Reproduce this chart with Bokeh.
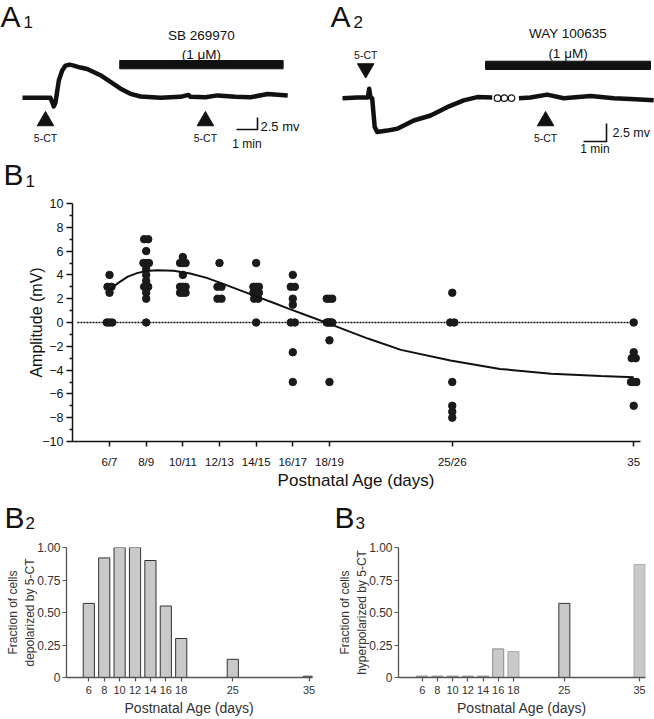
from bokeh.plotting import figure
from bokeh.models import Range1d, FixedTicker
from bokeh.layouts import column, row
from bokeh.embed import file_html
from bokeh.resources import INLINE
from bokeh.core.properties import value

FONT = "Liberation Sans"
INK = "#111111"
NAN = float("nan")

# ---------------- data ----------------
# A1 recording (time in min, membrane potential change in mV)
a1_time = [0, 0.86, 1.33, 1.49, 1.57, 1.73, 1.89, 2.05, 2.24, 2.44, 2.76, 3.08, 3.71, 4.19,
           4.67, 5.14, 5.62, 6.57, 7.52, 7.9, 8.0, 8.71, 9.29, 10.14, 10.86, 11.67, 12.63]
a1_mv = [0, 0, 0, -1.8, -1.0, 3.6, 5.7, 6.7, 6.9, 6.7, 6.3, 6.0, 4.7, 3.3,
         1.9, 0.83, 0.27, 0, 0.2, 0.6, 0.2, 0.1, 0.5, 0.2, 0.1, 0.8, 0.5]
a1_5ct_times = [1.095, 8.71]
a1_drug_window = [4.63, 12.41]
a1_drug_name = ["SB 269970", "(1 μM)"]

# A2 recording
a2_time = [0, 0.65, 1.1, 1.16, 1.22, 1.29, 1.40, 1.51, 1.94, 2.38, 3.1, 3.83, 4.55, 5.27,
           5.86, 6.51, NAN, 7.67, 8.17, 8.9, 9.62, 10.78, 11.8, 12.52, 13.53]
a2_mv = [0, 0.1, 0.1, 1.3, 0.1, 0, -4.0, -4.7, -4.5, -4.25, -3.1, -2.4, -1.25, -0.3,
         0.15, 0.1, NAN, 0, 0.1, 0.5, 0, 0.3, 0, -0.1, -0.3]
a2_break_marks = [6.74, 7.04, 7.35]
a2_5ct_times = [1.01, 8.83]
a2_drug_window = [6.22, 13.39]
a2_drug_name = ["WAY 100635", "(1 μM)"]

# B1 amplitudes per age group
age_pos = [6, 8, 10, 12, 14, 16, 18, 24.7, 34.6]
b1_tick_labels = ["6/7", "8/9", "10/11", "12/13", "14/15", "16/17", "18/19", "25/26", "35"]
amp_6_7 = [4, 3, 3, 2.5, 0, 0, 0]
amp_8_9 = [7, 7, 6, 5, 5, 5, 4.5, 4, 3.5, 3, 3, 2.5, 2, 0]
amp_10_11 = [5.5, 5, 5, 5, 4, 3, 3, 3, 2.5, 2.5, 2.5]
amp_12_13 = [5, 3, 3, 2, 2]
amp_14_15 = [5, 3, 3, 3, 2.5, 2.5, 2.5, 2, 2, 0]
amp_16_17 = [4, 3, 3, 2, 1.5, 0, 0, -2.5, -5]
amp_18_19 = [2, 2, 2, 0, 0, 0, 0, 0, -1.5, -5]
amp_25_26 = [2.5, 0, 0, -5, -7, -7.5, -8]
amp_35 = [0, -2.5, -3, -3, -5, -5, -5, -7]
amp_groups = [amp_6_7, amp_8_9, amp_10_11, amp_12_13, amp_14_15,
              amp_16_17, amp_18_19, amp_25_26, amp_35]

fit_age = [6.0, 6.5, 7.0, 7.5, 8.0, 8.6, 9.5, 10.4, 11.3, 12.2, 13.1, 14.0, 14.9, 15.8,
           16.7, 17.9, 19.1, 20.1, 21.9, 24.6, 27.3, 30.1, 32.8, 34.6]
fit_amp = [2.75, 3.35, 3.85, 4.15, 4.32, 4.4, 4.35, 4.12, 3.75, 3.25, 2.72, 2.2, 1.68, 1.15,
           0.63, -0.05, -0.77, -1.35, -2.3, -3.2, -3.9, -4.3, -4.5, -4.6]

# B2 / B3 fractions
bar_labels = ["6", "8", "10", "12", "14", "16", "18", "25", "35"]
frac_depolarized = [0.57, 0.92, 1.00, 1.00, 0.90, 0.55, 0.30, 0.14, 0.01]
frac_hyperpolarized = [0.01, 0.01, 0.01, 0.01, 0.01, 0.22, 0.20, 0.57, 0.87]
b2_outline = ["#333333"] * 9
b3_outline = ["#777777"] * 5 + ["#888888", "#aaaaaa", "#333333", "#aaaaaa"]


# ---------------- helpers ----------------
def txt(p, x, y, s, size, align="center", baseline="middle", color=INK):
    p.text(x=[x], y=[y], text=[s], text_font=value(FONT), text_font_size=size,
           text_align=align, text_baseline=baseline, text_color=color)


def blank_fig(width, height, xr, yr):
    p = figure(width=width, height=height, x_range=Range1d(*xr), y_range=Range1d(*yr),
               output_backend="svg", toolbar_location=None, x_axis_type=None,
               y_axis_type=None, min_border=0)
    p.outline_line_color = None
    return p


ROW_A_H = 195

# ---------------- A1 (21 px/min, 4.8 px/mV) ----------------
def a1_x(px):
    return (px - 22) / 21.0


def a1_y(py):
    return (97.3 - py) / 4.8


pa1 = blank_fig(330, ROW_A_H, (a1_x(0), a1_x(330)), (a1_y(ROW_A_H), a1_y(0)))
pa1.line(a1_time, a1_mv, line_width=4.5, color=INK, line_join="round")
pa1.quad(left=[a1_drug_window[0]], right=[a1_drug_window[1]], top=[a1_y(60)],
         bottom=[a1_y(68.3)], color=INK)
mid1 = sum(a1_drug_window) / 2
txt(pa1, mid1, a1_y(35.3), a1_drug_name[0], "13.5px")
txt(pa1, mid1, a1_y(54), a1_drug_name[1], "13.5px")
pa1.scatter(a1_5ct_times, [a1_y(120.5)] * 2, marker="triangle", size=16.5, color=INK)
for t in a1_5ct_times:
    txt(pa1, t, a1_y(137), "5-CT", "10.5px")
cx, cy = a1_x(257), a1_y(129)
pa1.line([cx - 1, cx, cx], [cy, cy, cy + 2.5], line_width=1.6, color=INK, line_join="miter")
txt(pa1, a1_x(260), a1_y(126), "2.5 mv", "13px", align="left")
txt(pa1, cx - 0.5, a1_y(143.5), "1 min", "12px")
txt(pa1, a1_x(0), a1_y(15.5), "A", "30px", align="left")
txt(pa1, a1_x(23), a1_y(21), "1", "17px", align="left")
txt(pa1, a1_x(3), a1_y(174), "B", "30px", align="left")
txt(pa1, a1_x(25), a1_y(180), "1", "17px", align="left")

# ---------------- A2 (23 px/min, 7.2 px/mV) ----------------
def a2_x(px):
    return (px - 342) / 23.0


def a2_y(py):
    return (97.7 - py) / 7.2


pa2 = blank_fig(324, ROW_A_H, (a2_x(330), a2_x(654)), (a2_y(ROW_A_H), a2_y(0)))
pa2.line(a2_time, a2_mv, line_width=4.5, color=INK, line_join="round")
pa2.scatter(a2_break_marks, [0] * 3, marker="circle", size=6.5, fill_color="white",
            line_color=INK, line_width=1.2)
pa2.quad(left=[a2_drug_window[0]], right=[a2_drug_window[1]], top=[a2_y(60.7)],
         bottom=[a2_y(69)], color=INK)
mid2 = sum(a2_drug_window) / 2
txt(pa2, mid2, a2_y(33.3), a2_drug_name[0], "13.5px")
txt(pa2, mid2, a2_y(52.5), a2_drug_name[1], "13.5px")
pa2.scatter([a2_5ct_times[0]], [a2_y(68)], marker="inverted_triangle", size=16.5, color=INK)
txt(pa2, a2_5ct_times[0], a2_y(54), "5-CT", "10.5px")
pa2.scatter([a2_5ct_times[1]], [a2_y(120.5)], marker="triangle", size=16.5, color=INK)
txt(pa2, a2_5ct_times[1], a2_y(137), "5-CT", "10.5px")
cx, cy = a2_x(606), a2_y(141)
pa2.line([cx - 1, cx, cx], [cy, cy, cy + 2.5], line_width=1.6, color=INK, line_join="miter")
txt(pa2, a2_x(612), a2_y(132), "2.5 mv", "12.5px", align="left")
txt(pa2, cx - 0.5, a2_y(148.5), "1 min", "12px")
txt(pa2, a2_x(330), a2_y(15.5), "A", "30px", align="left")
txt(pa2, a2_x(353), a2_y(21), "2", "17px", align="left")

# ---------------- B1 ----------------
p1 = figure(width=654, height=297, x_range=Range1d(3.98, 34.97), y_range=Range1d(-10, 10),
            output_backend="svg", toolbar_location=None,
            min_border_left=72, min_border_right=14, min_border_top=8, min_border_bottom=48)
p1.outline_line_color = None
p1.grid.visible = False

# zero reference line
p1.line([age_pos[0] - 1.75, age_pos[-1]], [0, 0], line_dash="2 1", line_width=1.3, color=INK)

xs, ys = [], []
for pos, vals in zip(age_pos, amp_groups):
    counts = {}
    for v in vals:
        counts[v] = counts.get(v, 0) + 1
    for v, n in counts.items():
        step = 0.22 if n <= 2 else 0.3 / (n - 1)
        for k in range(n):
            xs.append(pos + (k - (n - 1) / 2) * step)
            ys.append(v)
p1.scatter(xs, ys, size=7.5, color="#1a1a1a")
p1.line(fit_age, fit_amp, line_width=2, color=INK)

p1.yaxis.ticker = FixedTicker(ticks=list(range(-10, 11, 2)), minor_ticks=list(range(-9, 10, 2)))
p1.xaxis.ticker = FixedTicker(ticks=age_pos, minor_ticks=[])
p1.xaxis.major_label_overrides = dict(zip(age_pos, b1_tick_labels))
for ax in (p1.xaxis[0], p1.yaxis[0]):
    ax.axis_line_color = INK
    ax.axis_line_width = 1.5
    ax.major_tick_line_color = INK
    ax.major_tick_line_width = 1.5
    ax.minor_tick_line_color = INK
    ax.minor_tick_line_width = 1.5
    ax.major_tick_in = 0
    ax.minor_tick_in = 0
    ax.major_label_text_font = FONT
    ax.major_label_text_color = INK
    ax.axis_label_text_font = FONT
    ax.axis_label_text_font_style = "normal"
    ax.axis_label_text_color = INK
p1.yaxis.major_tick_out = 6
p1.yaxis.minor_tick_out = 3
p1.yaxis.major_label_standoff = 3
p1.yaxis.major_label_text_font_size = "12.5px"
p1.yaxis.axis_label = "Amplitude (mV)"
p1.yaxis.axis_label_text_font_size = "16px"
p1.yaxis.axis_label_standoff = -6
p1.xaxis.major_tick_out = 5
p1.xaxis.minor_tick_out = 0
p1.xaxis.major_label_standoff = 9
p1.xaxis.major_label_text_font_size = "11.5px"
p1.xaxis.axis_label = "Postnatal Age (days)"
p1.xaxis.axis_label_text_font_size = "17px"
p1.xaxis.axis_label_standoff = 0

# ---------------- strip with the B2 / B3 panel letters (pixel coordinates) ----------------
STRIP_TOP, STRIP_BOT = 492, 537
strip = blank_fig(654, STRIP_BOT - STRIP_TOP, (0, 654), (STRIP_BOT, STRIP_TOP))
txt(strip, 4, 517, "B", "30px", align="left")
txt(strip, 25, 522, "2", "17px", align="left")
txt(strip, 334, 517, "B", "30px", align="left")
txt(strip, 355, 522, "3", "17px", align="left")


# ---------------- B2 / B3 ----------------
def frac_fig(width, xr, bl, br, vals, outline, ylab):
    p = figure(width=width, height=181, x_range=Range1d(*xr), y_range=Range1d(0, 1),
               output_backend="svg", toolbar_location=None,
               min_border_left=bl, min_border_right=br, min_border_top=10, min_border_bottom=39)
    p.outline_line_color = None
    p.grid.visible = False
    p.vbar(x=age_pos, top=vals, width=1.45, bottom=0, fill_color="#c9c9c9",
           line_color=outline, line_width=1)
    p.yaxis.ticker = FixedTicker(ticks=[0, 0.25, 0.5, 0.75, 1], minor_ticks=[])
    p.yaxis.major_label_overrides = {0: "0", 0.25: "0.25", 0.5: "0.50", 0.75: "0.75", 1: "1.00"}
    p.xaxis.ticker = FixedTicker(ticks=age_pos, minor_ticks=[])
    p.xaxis.major_label_overrides = dict(zip(age_pos, bar_labels))
    for ax in (p.xaxis[0], p.yaxis[0]):
        ax.axis_line_color = "#555555"
        ax.axis_line_width = 1.3
        ax.major_tick_line_color = "#555555"
        ax.major_tick_line_width = 1.2
        ax.major_tick_in = 0
        ax.major_tick_out = 4
        ax.minor_tick_out = 0
        ax.minor_tick_in = 0
        ax.major_label_text_font = FONT
        ax.major_label_text_color = "#333333"
        ax.axis_label_text_font = FONT
        ax.axis_label_text_font_style = "normal"
        ax.axis_label_text_color = "#333333"
    p.yaxis.major_label_text_font_size = "12px"
    p.yaxis.major_label_standoff = 2
    p.yaxis.axis_label = ylab
    p.yaxis.axis_label_text_font_size = "12px"
    p.yaxis.axis_label_standoff = -3
    p.xaxis.major_label_text_font_size = "11px"
    p.xaxis.major_label_standoff = 4
    p.xaxis.axis_label = "Postnatal Age (days)"
    p.xaxis.axis_label_text_font_size = "14px"
    p.xaxis.axis_label_standoff = 3
    return p


pb2 = frac_fig(330, (3.10, 35.05), 66, 18, frac_depolarized, b2_outline,
               "Fraction of cells\ndepolarized by 5-CT")
pb3 = frac_fig(324, (2.88, 35.38), 68, 9, frac_hyperpolarized, b3_outline,
               "Fraction of cells\nhyperpolarized by 5-CT")

layout = column(row(pa1, pa2), p1, row(strip), row(pb2, pb3))
open("out.html", "w").write(file_html(layout, INLINE))
